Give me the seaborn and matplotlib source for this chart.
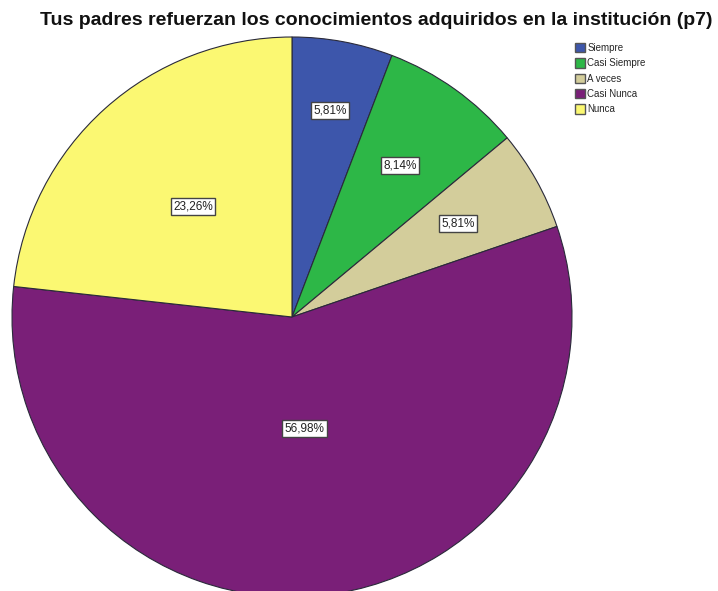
import numpy as np
import matplotlib.pyplot as plt
import seaborn as sns
from matplotlib.patches import Patch

categories = ["Siempre", "Casi Siempre", "A veces", "Casi Nunca", "Nunca"]
percents = [5.81, 8.14, 5.81, 56.98, 23.26]
labels = ["5,81%", "8,14%", "5,81%", "56,98%", "23,26%"]
colors = ["#3d56ab", "#2db747", "#d3cd9b", "#7a1f78", "#fbf872"]
label_radius = [0.75, 0.665, 0.68, 0.40, 0.53]

sns.set_style("white")
plt.rcParams['font.family'] = ['Liberation Sans', 'DejaVu Sans']

fig = plt.figure(figsize=(7.18, 5.91), dpi=100)
ax = fig.add_axes([12 / 718, -6 / 591, 560 / 718, 560 / 591])

wedges, _ = ax.pie(percents, colors=colors, startangle=90, counterclock=False,
                   wedgeprops=dict(edgecolor="#2a2a3a", linewidth=0.8))
ax.set_xlim(-1, 1)
ax.set_ylim(-1, 1)
ax.set_aspect("equal")

for w, lab, r in zip(wedges, labels, label_radius):
    ang = np.deg2rad((w.theta1 + w.theta2) / 2)
    ax.text(r * np.cos(ang), r * np.sin(ang), lab, ha="center", va="center",
            fontsize=8.5, color="#222222",
            bbox=dict(boxstyle="square,pad=0.2", fc="white", ec="#444444", lw=1.0))

fig.text(0.524, 0.966, "Tus padres refuerzan los conocimientos adquiridos en la institución (p7)",
         ha="center", va="center", fontsize=14, fontweight="bold", color="#111111")

handles = [Patch(facecolor=c, edgecolor="#555555", label=n) for c, n in zip(colors, categories)]
fig.legend(handles=handles, loc="upper left", bbox_to_anchor=(568 / 718, 1 - 36 / 591),
           frameon=False, fontsize=7, handlelength=1.0, handleheight=1.1,
           handletextpad=0.3, labelspacing=0.55, borderpad=0.2)

fig.savefig("out.png", dpi=100)
